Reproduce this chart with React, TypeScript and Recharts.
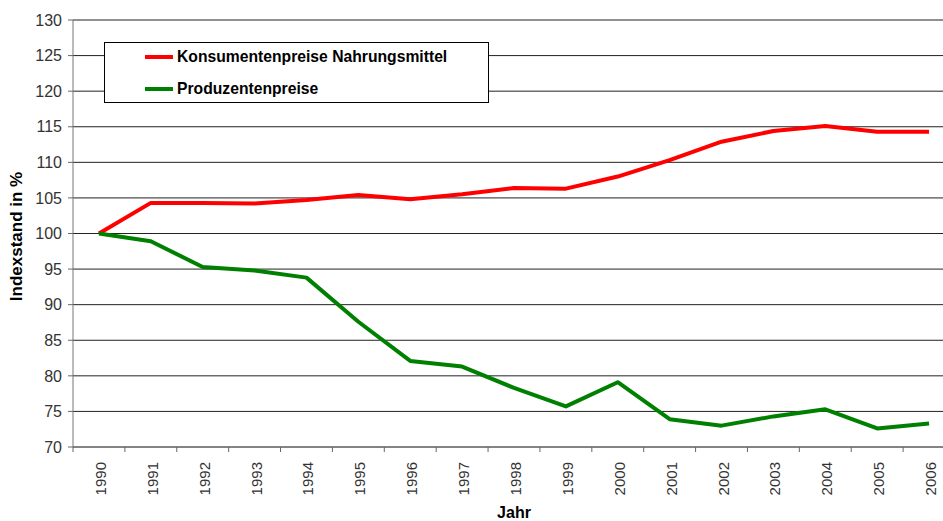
import React from "react";
import { LineChart, Line, XAxis, YAxis, CartesianGrid, Legend } from "recharts";

const years = ["1990","1991","1992","1993","1994","1995","1996","1997","1998","1999","2000","2001","2002","2003","2004","2005","2006"];
const konsumenten = [100, 104.3, 104.3, 104.2, 104.7, 105.4, 104.8, 105.5, 106.4, 106.3, 108.0, 110.3, 112.9, 114.4, 115.1, 114.3, 114.3];
const produzenten = [100, 98.9, 95.3, 94.8, 93.8, 87.6, 82.1, 81.3, 78.3, 75.7, 79.1, 73.9, 73.0, 74.3, 75.3, 72.6, 73.3];
const yTicks = [70, 75, 80, 85, 90, 95, 100, 105, 110, 115, 120, 125, 130];
const seriesNames = ["Konsumentenpreise Nahrungsmittel", "Produzentenpreise"];

const data = years.map((y, i) => ({ jahr: y, k: konsumenten[i], p: produzenten[i] }));

const FONT = "'Liberation Sans', Arial, Helvetica, sans-serif";
const CHART_W = 960;
const CHART_H = 521;
const MARGIN = { top: 20, right: 5, bottom: 0, left: 0 };
const Y_W = 73;
const X_H = 74;
const PLOT_LEFT = MARGIN.left + Y_W;
const PLOT_W = CHART_W - PLOT_LEFT - MARGIN.right;
const PLOT_BOTTOM = CHART_H - MARGIN.bottom - X_H;
const PLOT_TOP = MARGIN.top;
const BAND = PLOT_W / years.length;

const XTick = (props: any) => {
  const { x, payload } = props;
  const bx = x - BAND / 2;
  const tx = x + 7;
  const ty = PLOT_BOTTOM + 15;
  return (
    <g>
      <line x1={bx} x2={bx} y1={PLOT_BOTTOM} y2={PLOT_BOTTOM + 5} stroke="#666" strokeWidth={1} />
      <text
        x={tx}
        y={ty}
        transform={`rotate(-90, ${tx}, ${ty})`}
        textAnchor="end"
        fontSize={15}
        fontFamily={FONT}
        fill="#333"
      >
        {payload.value}
      </text>
    </g>
  );
};

const colors = ["#ff0000", "#008000"];

const LegendBox = () => (
  <div
    style={{
      width: 385,
      height: 61,
      border: "1px solid #000",
      background: "#fff",
      boxSizing: "border-box",
      position: "relative",
      fontFamily: FONT,
    }}
  >
    {seriesNames.map((n, i) => (
      <div
        key={n}
        style={{
          position: "absolute",
          left: 40,
          top: 4 + i * 31.5,
          height: 20,
          display: "flex",
          alignItems: "center",
          whiteSpace: "nowrap",
        }}
      >
        <div style={{ width: 28, height: 4, background: colors[i], marginRight: 4 }} />
        <span style={{ fontSize: 15.7, fontWeight: "bold", color: "#000" }}>{n}</span>
      </div>
    ))}
  </div>
);

export default function App() {
  return (
    <div
      style={{
        position: "fixed",
        left: 0,
        top: 0,
        width: 943,
        height: 521,
        overflow: "hidden",
        background: "#fff",
      }}
    >
      <LineChart width={CHART_W} height={CHART_H} data={data} margin={MARGIN}>
        <CartesianGrid horizontal={true} vertical={false} stroke="#222" strokeWidth={1} />
        <XAxis
          dataKey="jahr"
          height={X_H}
          interval={0}
          padding={{ left: BAND / 2, right: BAND / 2 }}
          tickLine={false}
          axisLine={{ stroke: "#777", strokeWidth: 1 }}
          tick={<XTick />}
          label={{
            content: () => (
              <text
                x={PLOT_LEFT + PLOT_W / 2}
                y={CHART_H - 3}
                textAnchor="middle"
                fontSize={16}
                fontWeight="bold"
                fontFamily={FONT}
                fill="#000"
              >
                Jahr
              </text>
            ),
          }}
        />
        <YAxis
          width={Y_W}
          domain={[70, 130]}
          ticks={yTicks}
          interval={0}
          allowDataOverflow
          tickSize={5}
          tickMargin={6}
          tickLine={{ stroke: "#666" }}
          axisLine={{ stroke: "#777", strokeWidth: 1 }}
          tick={{ fontSize: 16, fontFamily: FONT, fill: "#333" }}
          label={{
            content: () => {
              const cx = 22;
              const cy = (PLOT_TOP + PLOT_BOTTOM) / 2 + 3;
              return (
                <text
                  x={cx}
                  y={cy}
                  transform={`rotate(-90, ${cx}, ${cy})`}
                  textAnchor="middle"
                  fontSize={17}
                  fontWeight="bold"
                  fontFamily={FONT}
                  fill="#000"
                >
                  Indexstand in %
                </text>
              );
            },
          }}
        />
        <Legend
          layout="vertical"
          align="center"
          verticalAlign="middle"
          content={() => <LegendBox />}
          wrapperStyle={{ left: 104, top: 42, width: 385, height: 61 }}
        />
        <Line
          type="linear"
          dataKey="k"
          name={seriesNames[0]}
          stroke={colors[0]}
          strokeWidth={4}
          dot={false}
          strokeLinejoin="round"
          isAnimationActive={false}
        />
        <Line
          type="linear"
          dataKey="p"
          name={seriesNames[1]}
          stroke={colors[1]}
          strokeWidth={4}
          dot={false}
          strokeLinejoin="round"
          isAnimationActive={false}
        />
      </LineChart>
    </div>
  );
}
